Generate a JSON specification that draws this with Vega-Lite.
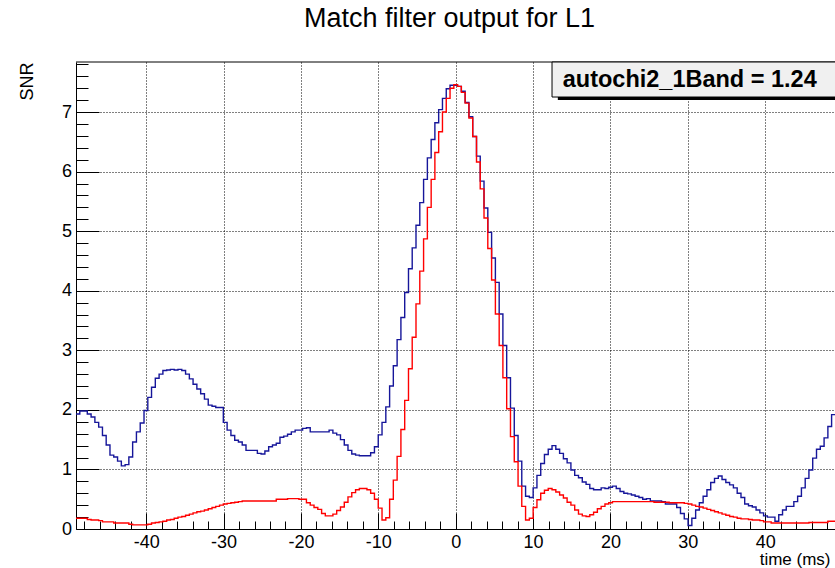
{
  "$schema": "https://vega.github.io/schema/vega-lite/v6.json",
  "width": 759,
  "height": 467,
  "autosize": {"type": "none"},
  "padding": {"left": 76, "top": 62, "right": 0, "bottom": 39},
  "background": "white",
  "config": {
    "view": {"stroke": null},
    "font": "Liberation Sans",
    "axis": {
      "labelFont": "Liberation Sans", "labelFontSize": 18, "labelColor": "black",
      "titleFont": "Liberation Sans", "titleFontSize": 17, "titleFontWeight": "normal", "titleColor": "black",
      "domainColor": "black", "domainWidth": 1, "tickColor": "black", "tickWidth": 1,
      "gridColor": "black", "gridDash": [1, 2], "gridWidth": 1,
      "labelOverlap": false, "labelFlush": false, "labelBound": false
    }
  },
  "title": {
    "text": "Match filter output for L1", "font": "Liberation Sans", "fontSize": 27, "fontWeight": "normal",
    "color": "black", "anchor": "middle", "frame": "group", "baseline": "alphabetic", "offset": 1, "dx": -6
  },
  "layer": [
    {
      "data": {"values": [
        {"t": -49.07, "blue": 1.93, "red": 0.18},
        {"t": -48.58, "blue": 1.98, "red": 0.18},
        {"t": -48.10, "blue": 1.98, "red": 0.18},
        {"t": -47.61, "blue": 1.93, "red": 0.16},
        {"t": -47.12, "blue": 1.88, "red": 0.15},
        {"t": -46.63, "blue": 1.79, "red": 0.15},
        {"t": -46.14, "blue": 1.71, "red": 0.14},
        {"t": -45.65, "blue": 1.57, "red": 0.12},
        {"t": -45.17, "blue": 1.41, "red": 0.12},
        {"t": -44.68, "blue": 1.24, "red": 0.12},
        {"t": -44.19, "blue": 1.21, "red": 0.10},
        {"t": -43.70, "blue": 1.14, "red": 0.10},
        {"t": -43.21, "blue": 1.06, "red": 0.10},
        {"t": -42.72, "blue": 1.08, "red": 0.10},
        {"t": -42.24, "blue": 1.21, "red": 0.08},
        {"t": -41.75, "blue": 1.46, "red": 0.07},
        {"t": -41.26, "blue": 1.63, "red": 0.07},
        {"t": -40.77, "blue": 1.78, "red": 0.07},
        {"t": -40.28, "blue": 1.99, "red": 0.07},
        {"t": -39.79, "blue": 2.21, "red": 0.08},
        {"t": -39.31, "blue": 2.38, "red": 0.10},
        {"t": -38.82, "blue": 2.53, "red": 0.11},
        {"t": -38.33, "blue": 2.60, "red": 0.12},
        {"t": -37.84, "blue": 2.66, "red": 0.13},
        {"t": -37.35, "blue": 2.67, "red": 0.15},
        {"t": -36.87, "blue": 2.68, "red": 0.16},
        {"t": -36.38, "blue": 2.67, "red": 0.18},
        {"t": -35.89, "blue": 2.68, "red": 0.20},
        {"t": -35.40, "blue": 2.66, "red": 0.21},
        {"t": -34.91, "blue": 2.60, "red": 0.23},
        {"t": -34.42, "blue": 2.52, "red": 0.25},
        {"t": -33.94, "blue": 2.43, "red": 0.27},
        {"t": -33.45, "blue": 2.35, "red": 0.29},
        {"t": -32.96, "blue": 2.27, "red": 0.30},
        {"t": -32.47, "blue": 2.18, "red": 0.32},
        {"t": -31.98, "blue": 2.08, "red": 0.34},
        {"t": -31.49, "blue": 2.06, "red": 0.36},
        {"t": -31.01, "blue": 2.04, "red": 0.38},
        {"t": -30.52, "blue": 2.04, "red": 0.40},
        {"t": -30.03, "blue": 1.79, "red": 0.42},
        {"t": -29.54, "blue": 1.66, "red": 0.43},
        {"t": -29.05, "blue": 1.57, "red": 0.44},
        {"t": -28.56, "blue": 1.49, "red": 0.45},
        {"t": -28.08, "blue": 1.46, "red": 0.46},
        {"t": -27.59, "blue": 1.41, "red": 0.47},
        {"t": -27.10, "blue": 1.32, "red": 0.47},
        {"t": -26.61, "blue": 1.32, "red": 0.47},
        {"t": -26.12, "blue": 1.32, "red": 0.47},
        {"t": -25.63, "blue": 1.27, "red": 0.47},
        {"t": -25.15, "blue": 1.26, "red": 0.47},
        {"t": -24.66, "blue": 1.31, "red": 0.47},
        {"t": -24.17, "blue": 1.38, "red": 0.47},
        {"t": -23.68, "blue": 1.41, "red": 0.47},
        {"t": -23.19, "blue": 1.44, "red": 0.50},
        {"t": -22.71, "blue": 1.54, "red": 0.50},
        {"t": -22.22, "blue": 1.56, "red": 0.50},
        {"t": -21.73, "blue": 1.59, "red": 0.51},
        {"t": -21.24, "blue": 1.63, "red": 0.51},
        {"t": -20.75, "blue": 1.66, "red": 0.51},
        {"t": -20.26, "blue": 1.66, "red": 0.50},
        {"t": -19.78, "blue": 1.69, "red": 0.50},
        {"t": -19.29, "blue": 1.70, "red": 0.44},
        {"t": -18.80, "blue": 1.63, "red": 0.40},
        {"t": -18.31, "blue": 1.63, "red": 0.36},
        {"t": -17.82, "blue": 1.63, "red": 0.33},
        {"t": -17.33, "blue": 1.63, "red": 0.26},
        {"t": -16.85, "blue": 1.63, "red": 0.22},
        {"t": -16.36, "blue": 1.66, "red": 0.22},
        {"t": -15.87, "blue": 1.61, "red": 0.25},
        {"t": -15.38, "blue": 1.58, "red": 0.31},
        {"t": -14.89, "blue": 1.50, "red": 0.37},
        {"t": -14.40, "blue": 1.41, "red": 0.45},
        {"t": -13.92, "blue": 1.32, "red": 0.54},
        {"t": -13.43, "blue": 1.26, "red": 0.61},
        {"t": -12.94, "blue": 1.24, "red": 0.66},
        {"t": -12.45, "blue": 1.23, "red": 0.68},
        {"t": -11.96, "blue": 1.23, "red": 0.68},
        {"t": -11.47, "blue": 1.23, "red": 0.66},
        {"t": -10.99, "blue": 1.28, "red": 0.60},
        {"t": -10.50, "blue": 1.38, "red": 0.50},
        {"t": -10.01, "blue": 1.58, "red": 0.35},
        {"t": -9.52, "blue": 1.79, "red": 0.15},
        {"t": -9.03, "blue": 2.05, "red": 0.19},
        {"t": -8.54, "blue": 2.40, "red": 0.50},
        {"t": -8.06, "blue": 2.74, "red": 0.82},
        {"t": -7.57, "blue": 3.18, "red": 1.22},
        {"t": -7.08, "blue": 3.55, "red": 1.67},
        {"t": -6.59, "blue": 3.97, "red": 2.16},
        {"t": -6.10, "blue": 4.37, "red": 2.69},
        {"t": -5.62, "blue": 4.72, "red": 3.22},
        {"t": -5.13, "blue": 5.10, "red": 3.78},
        {"t": -4.64, "blue": 5.48, "red": 4.33},
        {"t": -4.15, "blue": 5.87, "red": 4.87},
        {"t": -3.66, "blue": 6.23, "red": 5.40},
        {"t": -3.17, "blue": 6.54, "red": 5.87},
        {"t": -2.69, "blue": 6.82, "red": 6.32},
        {"t": -2.20, "blue": 7.04, "red": 6.67},
        {"t": -1.71, "blue": 7.23, "red": 7.00},
        {"t": -1.22, "blue": 7.39, "red": 7.23},
        {"t": -0.73, "blue": 7.45, "red": 7.40},
        {"t": -0.24, "blue": 7.45, "red": 7.46},
        {"t": 0.24, "blue": 7.43, "red": 7.43},
        {"t": 0.73, "blue": 7.35, "red": 7.33},
        {"t": 1.22, "blue": 7.16, "red": 7.15},
        {"t": 1.71, "blue": 6.92, "red": 6.90},
        {"t": 2.20, "blue": 6.59, "red": 6.59},
        {"t": 2.69, "blue": 6.26, "red": 6.16},
        {"t": 3.17, "blue": 5.84, "red": 5.71},
        {"t": 3.66, "blue": 5.39, "red": 5.22},
        {"t": 4.15, "blue": 4.98, "red": 4.71},
        {"t": 4.64, "blue": 4.55, "red": 4.18},
        {"t": 5.13, "blue": 4.14, "red": 3.61},
        {"t": 5.62, "blue": 3.61, "red": 3.08},
        {"t": 6.10, "blue": 3.08, "red": 2.54},
        {"t": 6.59, "blue": 2.54, "red": 2.02},
        {"t": 7.08, "blue": 2.03, "red": 1.55},
        {"t": 7.57, "blue": 1.57, "red": 1.13},
        {"t": 8.06, "blue": 1.14, "red": 0.72},
        {"t": 8.54, "blue": 0.72, "red": 0.38},
        {"t": 9.03, "blue": 0.55, "red": 0.15},
        {"t": 9.52, "blue": 0.53, "red": 0.18},
        {"t": 10.01, "blue": 0.69, "red": 0.36},
        {"t": 10.50, "blue": 0.90, "red": 0.49},
        {"t": 10.99, "blue": 1.10, "red": 0.60},
        {"t": 11.47, "blue": 1.25, "red": 0.65},
        {"t": 11.96, "blue": 1.34, "red": 0.68},
        {"t": 12.45, "blue": 1.40, "red": 0.66},
        {"t": 12.94, "blue": 1.34, "red": 0.62},
        {"t": 13.43, "blue": 1.27, "red": 0.57},
        {"t": 13.92, "blue": 1.18, "red": 0.52},
        {"t": 14.40, "blue": 1.11, "red": 0.45},
        {"t": 14.89, "blue": 0.99, "red": 0.40},
        {"t": 15.38, "blue": 0.90, "red": 0.32},
        {"t": 15.87, "blue": 0.86, "red": 0.25},
        {"t": 16.36, "blue": 0.79, "red": 0.22},
        {"t": 16.85, "blue": 0.75, "red": 0.21},
        {"t": 17.33, "blue": 0.68, "red": 0.24},
        {"t": 17.82, "blue": 0.66, "red": 0.28},
        {"t": 18.31, "blue": 0.66, "red": 0.34},
        {"t": 18.80, "blue": 0.69, "red": 0.38},
        {"t": 19.29, "blue": 0.68, "red": 0.42},
        {"t": 19.78, "blue": 0.70, "red": 0.44},
        {"t": 20.26, "blue": 0.72, "red": 0.46},
        {"t": 20.75, "blue": 0.68, "red": 0.46},
        {"t": 21.24, "blue": 0.63, "red": 0.46},
        {"t": 21.73, "blue": 0.60, "red": 0.46},
        {"t": 22.22, "blue": 0.59, "red": 0.46},
        {"t": 22.71, "blue": 0.57, "red": 0.46},
        {"t": 23.19, "blue": 0.55, "red": 0.46},
        {"t": 23.68, "blue": 0.53, "red": 0.46},
        {"t": 24.17, "blue": 0.50, "red": 0.46},
        {"t": 24.66, "blue": 0.51, "red": 0.46},
        {"t": 25.15, "blue": 0.47, "red": 0.46},
        {"t": 25.63, "blue": 0.47, "red": 0.45},
        {"t": 26.12, "blue": 0.47, "red": 0.45},
        {"t": 26.61, "blue": 0.46, "red": 0.45},
        {"t": 27.10, "blue": 0.42, "red": 0.45},
        {"t": 27.59, "blue": 0.42, "red": 0.44},
        {"t": 28.08, "blue": 0.42, "red": 0.44},
        {"t": 28.56, "blue": 0.36, "red": 0.44},
        {"t": 29.05, "blue": 0.26, "red": 0.44},
        {"t": 29.54, "blue": 0.17, "red": 0.43},
        {"t": 30.03, "blue": 0.06, "red": 0.42},
        {"t": 30.52, "blue": 0.18, "red": 0.40},
        {"t": 31.01, "blue": 0.32, "red": 0.38},
        {"t": 31.49, "blue": 0.44, "red": 0.37},
        {"t": 31.98, "blue": 0.55, "red": 0.35},
        {"t": 32.47, "blue": 0.66, "red": 0.33},
        {"t": 32.96, "blue": 0.78, "red": 0.31},
        {"t": 33.45, "blue": 0.85, "red": 0.29},
        {"t": 33.94, "blue": 0.89, "red": 0.27},
        {"t": 34.42, "blue": 0.83, "red": 0.25},
        {"t": 34.91, "blue": 0.78, "red": 0.23},
        {"t": 35.40, "blue": 0.74, "red": 0.21},
        {"t": 35.89, "blue": 0.69, "red": 0.20},
        {"t": 36.38, "blue": 0.60, "red": 0.18},
        {"t": 36.87, "blue": 0.53, "red": 0.17},
        {"t": 37.35, "blue": 0.42, "red": 0.17},
        {"t": 37.84, "blue": 0.39, "red": 0.16},
        {"t": 38.33, "blue": 0.37, "red": 0.15},
        {"t": 38.82, "blue": 0.32, "red": 0.15},
        {"t": 39.31, "blue": 0.27, "red": 0.14},
        {"t": 39.79, "blue": 0.22, "red": 0.12},
        {"t": 40.28, "blue": 0.20, "red": 0.12},
        {"t": 40.77, "blue": 0.20, "red": 0.10},
        {"t": 41.26, "blue": 0.13, "red": 0.10},
        {"t": 41.75, "blue": 0.24, "red": 0.10},
        {"t": 42.24, "blue": 0.32, "red": 0.10},
        {"t": 42.72, "blue": 0.38, "red": 0.10},
        {"t": 43.21, "blue": 0.38, "red": 0.10},
        {"t": 43.70, "blue": 0.46, "red": 0.10},
        {"t": 44.19, "blue": 0.55, "red": 0.10},
        {"t": 44.68, "blue": 0.69, "red": 0.10},
        {"t": 45.17, "blue": 0.85, "red": 0.10},
        {"t": 45.65, "blue": 0.99, "red": 0.11},
        {"t": 46.14, "blue": 1.19, "red": 0.11},
        {"t": 46.63, "blue": 1.34, "red": 0.11},
        {"t": 47.12, "blue": 1.39, "red": 0.11},
        {"t": 47.61, "blue": 1.53, "red": 0.11},
        {"t": 48.10, "blue": 1.72, "red": 0.13},
        {"t": 48.58, "blue": 1.92, "red": 0.13},
        {"t": 49.07, "blue": 1.92, "red": 0.13}
      ]},
      "transform": [{"fold": ["blue", "red"], "as": ["series", "snr"]}],
      "mark": {"type": "line", "interpolate": "step-after", "strokeWidth": 1.4, "clip": true},
      "encoding": {
        "x": {
          "field": "t", "type": "quantitative",
          "scale": {"domain": [-49.07, 49.02], "nice": false, "zero": false},
          "axis": {
            "title": "time (ms)", "titleAnchor": "end", "titleAlign": "right", "titleBaseline": "alphabetic",
            "titleX": 754, "titleY": 35.5,
            "tickCount": 200,
            "values": [-48, -46, -44, -42, -40, -38, -36, -34, -32, -30, -28, -26, -24, -22, -20, -18, -16, -14, -12, -10, -8, -6, -4, -2, 0, 2, 4, 6, 8, 10, 12, 14, 16, 18, 20, 22, 24, 26, 28, 30, 32, 34, 36, 38, 40, 42, 44, 46, 48],
            "labelExpr": "datum.value % 10 === 0 ? '' + datum.value : ''",
            "labelPadding": 20.5,
            "tickSize": {"condition": {"test": "datum.value % 10 === 0", "value": -16}, "value": -8},
            "grid": true,
            "gridOpacity": {"condition": {"test": "datum.value % 10 === 0", "value": 1}, "value": 0}
          }
        },
        "y": {
          "field": "snr", "type": "quantitative",
          "scale": {"domain": [0, 7.84], "nice": false, "zero": false},
          "axis": {
            "title": "SNR", "titleFontSize": 18, "titleAngle": -90, "titleAlign": "right", "titleBaseline": "alphabetic",
            "titleX": -44, "titleY": 0,
            "tickCount": 200,
            "values": [0, 0.2, 0.4, 0.6, 0.8, 1, 1.2, 1.4, 1.6, 1.8, 2, 2.2, 2.4, 2.6, 2.8, 3, 3.2, 3.4, 3.6, 3.8, 4, 4.2, 4.4, 4.6, 4.8, 5, 5.2, 5.4, 5.6, 5.8, 6, 6.2, 6.4, 6.6, 6.8, 7, 7.2, 7.4, 7.6, 7.8],
            "labelExpr": "datum.value % 1 === 0 ? '' + datum.value : ''",
            "labelPadding": 27.5,
            "tickSize": {"condition": {"test": "datum.value % 1 === 0", "value": -23}, "value": -12},
            "grid": true,
            "gridOpacity": {"condition": {"test": "datum.value % 1 === 0", "value": 1}, "value": 0}
          }
        },
        "color": {"field": "series", "type": "nominal", "scale": {"domain": ["blue", "red"], "range": ["#16169a", "#ff0000"]}, "legend": null}
      }
    },
    {
      "data": {"values": [{"edge": "top"}]},
      "mark": {"type": "rule", "color": "black", "strokeWidth": 1},
      "encoding": {"y": {"datum": 7.84, "scale": {"domain": [0, 7.84], "nice": false, "zero": false}}}
    },
    {
      "data": {"values": [{"label": "autochi2_1Band = 1.24"}]},
      "mark": {"type": "rect", "color": "black"},
      "encoding": {
        "x": {"datum": 13.2, "scale": {"domain": [-49.07, 49.02], "nice": false, "zero": false}},
        "x2": {"datum": 70},
        "y": {"datum": 7.78, "scale": {"domain": [0, 7.84], "nice": false, "zero": false}},
        "y2": {"datum": 7.2}
      }
    },
    {
      "data": {"values": [{"label": "autochi2_1Band = 1.24"}]},
      "mark": {"type": "rect", "fill": "#f0f0f0", "stroke": "black", "strokeWidth": 1},
      "encoding": {
        "x": {"datum": 12.45, "scale": {"domain": [-49.07, 49.02], "nice": false, "zero": false}},
        "x2": {"datum": 70},
        "y": {"datum": 7.84, "scale": {"domain": [0, 7.84], "nice": false, "zero": false}},
        "y2": {"datum": 7.252}
      }
    },
    {
      "data": {"values": [{"label": "autochi2_1Band = 1.24"}]},
      "mark": {"type": "text", "align": "left", "baseline": "alphabetic", "font": "Liberation Sans", "fontWeight": "bold", "fontSize": 23.5, "color": "black"},
      "encoding": {
        "x": {"datum": 13.83, "scale": {"domain": [-49.07, 49.02], "nice": false, "zero": false}},
        "y": {"datum": 7.415, "scale": {"domain": [0, 7.84], "nice": false, "zero": false}},
        "text": {"field": "label"}
      }
    }
  ]
}
